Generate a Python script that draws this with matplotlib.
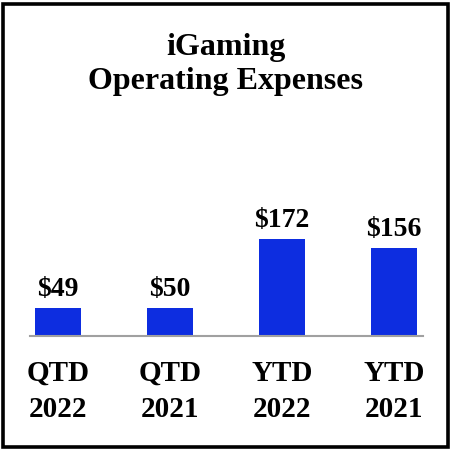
import matplotlib.pyplot as plt
import matplotlib.patches as patches
import numpy as np

categories = ['QTD\n2022', 'QTD\n2021', 'YTD\n2022', 'YTD\n2021']
expenses = [49, 50, 172, 156]
value_labels = ['$49', '$50', '$172', '$156']

plt.rcParams['font.family'] = ['Liberation Serif', 'DejaVu Serif']

fig = plt.figure(figsize=(4.52, 4.52), dpi=100)

# black frame round the whole picture
frame = patches.Rectangle((3.5 / 452, 4.5 / 452), 444.5 / 452, 443 / 452,
                          transform=fig.transFigure, fill=False,
                          edgecolor='black', linewidth=2.6)
fig.patches.append(frame)

fig.text(0.5, 1 - 47 / 452, 'iGaming', ha='center', va='center',
         fontsize=23, fontweight='bold')
fig.text(0.5, 1 - 82 / 452, 'Operating Expenses', ha='center', va='center',
         fontsize=23, fontweight='bold')

ax = fig.add_axes([30 / 452, 115 / 452, 393 / 452, 207 / 452])
ind = np.arange(len(categories))
bars = ax.bar(ind, expenses, width=0.41, color='#0d2de0')
ax.bar_label(bars, labels=value_labels, padding=5,
             fontsize=20, fontweight='bold')

ax.set_xlim(-0.25, 3.26)
ax.set_ylim(0, 367)
ax.set_xticks(ind)
ax.set_xticklabels(categories, fontsize=21, fontweight='bold', linespacing=1.45)
ax.tick_params(axis='x', length=0, pad=16.5)
ax.set_yticks([])
for side in ['top', 'right', 'left']:
    ax.spines[side].set_visible(False)
ax.spines['bottom'].set_color('#a0a0a0')
ax.spines['bottom'].set_linewidth(1.5)

fig.savefig('out.png', dpi=100)
